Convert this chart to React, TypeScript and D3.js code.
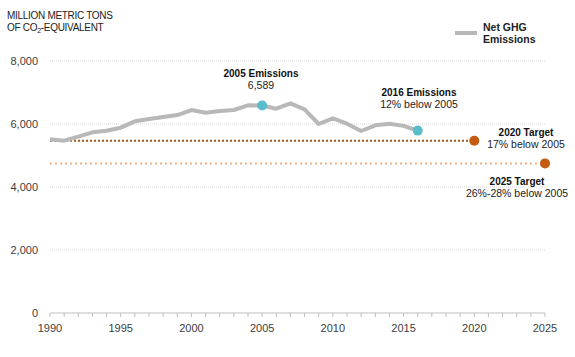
import React from "react";
import * as d3 from "d3";

const years = [1990,1991,1992,1993,1994,1995,1996,1997,1998,1999,2000,2001,2002,2003,2004,2005,2006,2007,2008,2009,2010,2011,2012,2013,2014,2015,2016];
const emissions = [5514,5470,5597,5735,5788,5883,6085,6158,6222,6285,6444,6360,6413,6444,6593,6589,6486,6657,6467,6000,6180,6010,5778,5958,6010,5940,5790];
const yTicks = [0, 2000, 4000, 6000, 8000];
const xTicks = [1990, 1995, 2000, 2005, 2010, 2015, 2020, 2025];
const target2020 = 5470;
const target2025 = 4750;

const W = 575, H = 357;
const x = d3.scaleLinear().domain([1990, 2025]).range([50, 545]);
const y = d3.scaleLinear().domain([0, 8000]).range([313, 61]);
const font = "'Liberation Sans', Arial, sans-serif";

export default function App() {
  const line = d3.line<number>().x((_, i) => x(years[i])).y((d) => y(d));
  const allYears = d3.range(1990, 2026);
  const i05 = years.indexOf(2005);
  const i16 = years.indexOf(2016);
  return (
    <svg width={W} height={H} style={{ position: "absolute", left: 0, top: 0 }} fontFamily={font}>
      <text x={7} y={19} fontSize={10} fill="#222" letterSpacing={-0.3}>MILLION METRIC TONS</text>
      <text x={7} y={31} fontSize={10} fill="#222" letterSpacing={-0.3}>
        OF CO<tspan fontSize={7} dy={2}>2</tspan><tspan dy={-2}>-EQUIVALENT</tspan>
      </text>
      {yTicks.filter((t) => t > 0).map((t) => (
        <line key={t} x1={50} x2={545} y1={y(t)} y2={y(t)} stroke="#d9d9d9" strokeWidth={1} strokeDasharray="1,1" />
      ))}
      {yTicks.map((t) => (
        <text key={t} x={38} y={y(t) + 4} fontSize={11} fill="#404040" textAnchor="end">{d3.format(",")(t)}</text>
      ))}
      <line x1={50} x2={545} y1={313} y2={313} stroke="#bfbfbf" />
      {allYears.map((yr) => (
        <line key={yr} x1={x(yr)} x2={x(yr)} y1={313} y2={317} stroke="#bfbfbf" />
      ))}
      {xTicks.map((t) => (
        <text key={t} x={x(t)} y={332} fontSize={11} fill="#404040" textAnchor="middle">{t}</text>
      ))}
      <line x1={x(1990)} x2={x(2025)} y1={y(target2025)} y2={y(target2025)} stroke="#f4b183" strokeWidth={2} strokeDasharray="2,3" />
      <line x1={x(1990)} x2={x(2020)} y1={y(target2020)} y2={y(target2020)} stroke="#a5541a" strokeWidth={2} strokeDasharray="2,2" />
      <path d={line(emissions) || ""} fill="none" stroke="#b8b8b8" strokeWidth={4} strokeLinejoin="round" />
      <circle cx={x(2005)} cy={y(emissions[i05])} r={5} fill="#5bbccc" />
      <circle cx={x(2016)} cy={y(emissions[i16])} r={5} fill="#5bbccc" />
      <circle cx={x(2020)} cy={y(target2020)} r={5} fill="#c55a11" />
      <circle cx={x(2025)} cy={y(target2025)} r={5} fill="#c55a11" />
      <text x={261} y={77} fontSize={10} fontWeight="bold" fill="#111" textAnchor="middle">2005 Emissions</text>
      <text x={261} y={89} fontSize={10.5} fill="#222" textAnchor="middle">6,589</text>
      <text x={419} y={96} fontSize={10} fontWeight="bold" fill="#111" textAnchor="middle">2016 Emissions</text>
      <text x={419} y={108} fontSize={10.5} fill="#222" textAnchor="middle">12% below 2005</text>
      <text x={526} y={136} fontSize={10} fontWeight="bold" fill="#111" textAnchor="middle">2020 Target</text>
      <text x={526} y={148} fontSize={10.5} fill="#222" textAnchor="middle">17% below 2005</text>
      <text x={517} y={185} fontSize={10} fontWeight="bold" fill="#111" textAnchor="middle">2025 Target</text>
      <text x={517} y={197} fontSize={10.5} fill="#222" textAnchor="middle">26%-28% below 2005</text>
      <line x1={455} x2={477} y1={33} y2={33} stroke="#b8b8b8" strokeWidth={4} />
      <text x={483} y={31} fontSize={10.5} fontWeight="bold" fill="#222">Net GHG</text>
      <text x={483} y={43} fontSize={10.5} fontWeight="bold" fill="#222">Emissions</text>
    </svg>
  );
}
